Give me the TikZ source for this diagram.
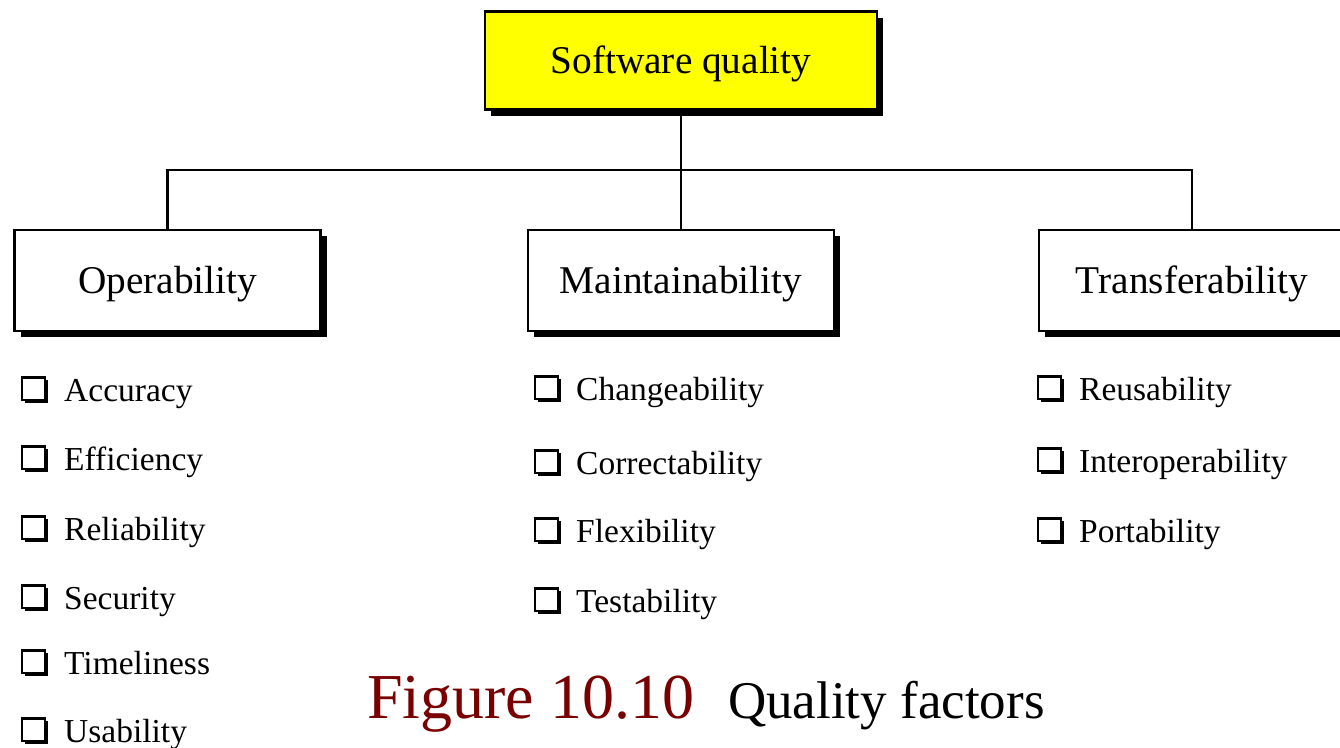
\documentclass[tikz,border=0pt]{standalone}
\usepackage{fontspec}
\setmainfont{Liberation Serif}
\usetikzlibrary{shadows}
\definecolor{figred}{RGB}{120,0,0}
\definecolor{topyellow}{RGB}{255,255,0}
\tikzset{
    factor/.style={draw, line width=2.5pt, fill=white, inner sep=0pt,
        minimum width=306pt, minimum height=101pt,
        text height=33pt, text depth=7.8pt,
        font=\fontsize{39.3}{45}\selectfont,
        drop shadow={shadow xshift=6pt, shadow yshift=-6pt, fill=black, opacity=1}},
    chkbox/.style={draw, line width=2.2pt, fill=white, inner sep=0pt,
        minimum size=22.5pt, anchor=south west,
        drop shadow={shadow xshift=3pt, shadow yshift=-3pt, fill=black, opacity=1}},
    item/.style={anchor=base west, inner sep=0pt, font=\fontsize{33.5}{38}\selectfont},
    link/.style={line width=2.5pt}
}
\begin{document}
\begin{tikzpicture}[x=1pt,y=-1pt]
\useasboundingbox (0,0) rectangle (1340,747);
% top box
\node[factor, fill=topyellow, minimum width=392pt, minimum height=98pt] (SQ) at (681,60.5) {Software quality};
% three factors
\node[factor] (Op) at (167.5,280.5) {Operability};
\node[factor] (Ma) at (681,280.5) {Maintainability};
\node[factor] (Tr) at (1192,280.5) {Transferability};
\coordinate (J) at (681,170);
\draw[link] (SQ.south) -- (Ma.north);
\draw[link] (Op.north) -- (Op.north |- J) -- (Tr.north |- J) -- (Tr.north);
% lists
\foreach \t/\y [count=\i] in {Accuracy/401,Efficiency/470,Reliability/540,Security/609,Timeliness/674,Usability/742}{
    \node[chkbox] (opc\i) at (21,\y) {};
    \node[item] (op\i) at (64,\y) {\t};
}
\foreach \t/\y [count=\i] in {Changeability/400,Correctability/474,Flexibility/542,Testability/612}{
    \node[chkbox] (mac\i) at (534,\y) {};
    \node[item] (ma\i) at (576,\y) {\t};
}
\foreach \t/\y [count=\i] in {Reusability/400,Interoperability/472,Portability/542}{
    \node[chkbox] (trc\i) at (1037,\y) {};
    \node[item] (tr\i) at (1079,\y) {\t};
}
% caption
\node[anchor=base west, inner sep=0pt, text=figred, font=\fontsize{64}{70}\selectfont] (fig) at (367,718) {Figure 10.10};
\node[anchor=base west, inner sep=0pt, font=\fontsize{53}{60}\selectfont] (cap) at (728,718) {Quality factors};
\end{tikzpicture}
\end{document}
